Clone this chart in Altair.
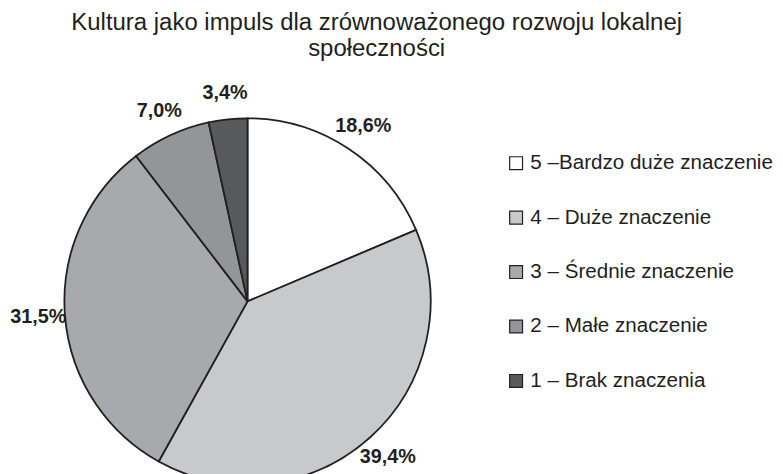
import altair as alt
import pandas as pd

categories = ["5 –Bardzo duże znaczenie", "4 – Duże znaczenie", "3 – Średnie znaczenie",
              "2 – Małe znaczenie", "1 – Brak znaczenia"]
values = [18.6, 39.4, 31.5, 7.0, 3.4]
labels = ["18,6%", "39,4%", "31,5%", "7,0%", "3,4%"]
colors = ["#ffffff", "#c8c9cb", "#a7a9ac", "#939598", "#58595b"]

df = pd.DataFrame({"cat": categories, "val": values, "lab": labels,
                   "ord": list(range(len(categories)))})

CX, CY, R = 242, 232, 185

base = alt.Chart(df).encode(
    theta=alt.Theta("val:Q", stack=True),
    order=alt.Order("ord:Q", sort="ascending"),
)

pie = base.mark_arc(stroke="#231f20", strokeWidth=1.8, radius=R).encode(
    x=alt.value(CX), y=alt.value(CY),
    color=alt.Color("cat:N", scale=alt.Scale(domain=categories, range=colors),
                    legend=alt.Legend(title=None, orient="none", legendX=503, legendY=82,
                                      symbolType="square", symbolSize=169,
                                      symbolStrokeColor="#231f20", symbolStrokeWidth=1.2,
                                      labelFontSize=20.8, labelFont="Liberation Sans",
                                      labelColor="#231f20", rowPadding=33, labelOffset=4,
                                      labelLimit=400)),
)

text = base.mark_text(radius=212, fontSize=20, fontWeight="bold", font="Liberation Sans",
                      color="#231f20").encode(
    x=alt.value(CX), y=alt.value(CY), text="lab:N")

chart = alt.layer(pie, text).properties(
    width=775, height=404,
    padding={"left": 0, "top": 62, "right": 0, "bottom": 0},
    autosize="none",
    title=alt.TitleParams(
        text=["Kultura jako impuls dla zrównoważonego rozwoju lokalnej", "społeczności"],
        fontSize=24.2, font="Liberation Sans", fontWeight="normal", color="#231f20",
        anchor="middle", dx=-15, lineHeight=25.5, offset=11),
).configure_view(stroke=None)

chart.save("out.html", embed_options={"renderer": "svg", "actions": False})
